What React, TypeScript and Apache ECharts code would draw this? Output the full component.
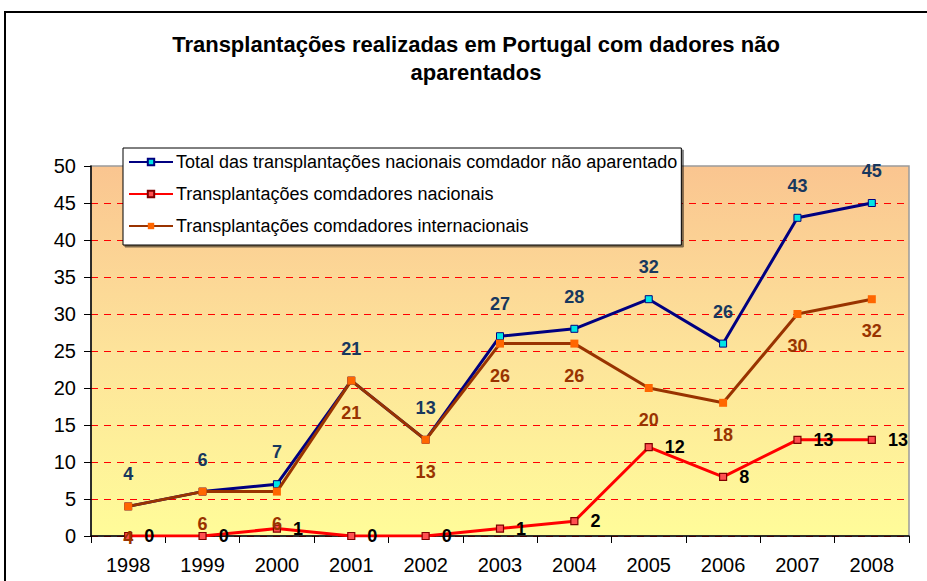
import React, { useEffect, useRef } from "react";
import * as echarts from "echarts";

const years = ["1998", "1999", "2000", "2001", "2002", "2003", "2004", "2005", "2006", "2007", "2008"];
const totalValues = [4, 6, 7, 21, 13, 27, 28, 32, 26, 43, 45];
const nacionaisValues = [0, 0, 1, 0, 0, 1, 2, 12, 8, 13, 13];
const internacionaisValues = [4, 6, 6, 21, 13, 26, 26, 20, 18, 30, 32];
const seriesNames = [
  "Total das transplantações nacionais comdador não aparentado",
  "Transplantações comdadores nacionais",
  "Transplantações comdadores internacionais",
];
const titleLines = ["Transplantações realizadas em Portugal com dadores não", "aparentados"];

const FONT = "'Liberation Sans', Arial, sans-serif";

export default function App() {
  const ref = useRef<HTMLDivElement>(null);
  useEffect(() => {
    if (!ref.current) return;
    const chart = echarts.init(ref.current, null, { renderer: "svg" });
    const gridColors = ["#FF0000", "#FF0000", "#FF0000", "#FF0000", "#FF0000", "#FF0000", "#FF0000", "#FF0000", "#FF0000", "#FF0000", "transparent"];
    chart.setOption({
      animation: false,
      textStyle: { fontFamily: FONT },
      graphic: [
        {
          type: "rect",
          shape: { x: 5, y: 12, width: 1000, height: 1000 },
          style: { fill: "none", stroke: "#000", lineWidth: 2 },
          silent: true,
        },
        {
          type: "text",
          x: 476,
          y: 44,
          style: {
            text: titleLines[0],
            font: `bold 22px ${FONT}`,
            fill: "#000",
            align: "center",
            verticalAlign: "middle",
          },
        },
        {
          type: "text",
          x: 476,
          y: 72,
          style: {
            text: titleLines[1],
            font: `bold 22px ${FONT}`,
            fill: "#000",
            align: "center",
            verticalAlign: "middle",
          },
        },
      ],
      legend: {
        orient: "vertical",
        left: 123,
        top: 148,
        backgroundColor: "#fff",
        borderColor: "#000",
        borderWidth: 1,
        padding: [5, 4, 10, 5],
        itemWidth: 44,
        itemHeight: 8,
        itemGap: 14,
        shadowColor: "rgba(0,0,0,0.5)",
        shadowOffsetX: 2,
        shadowOffsetY: 2,
        shadowBlur: 0,
        textStyle: { fontSize: 18, color: "#000", fontFamily: FONT, padding: [0, 0, 0, -2] },
        data: seriesNames,
      },
      grid: {
        left: 91,
        right: 18,
        top: 166,
        bottom: 45,
        show: true,
        borderColor: "#9a9a9a",
        borderWidth: 1.5,
        backgroundColor: new echarts.graphic.LinearGradient(0, 0, 0, 1, [
          { offset: 0, color: "#FAC590" },
          { offset: 0.5, color: "#FDE39A" },
          { offset: 1, color: "#FFFC99" },
        ]),
      },
      xAxis: {
        type: "category",
        data: years,
        boundaryGap: true,
        axisLine: { lineStyle: { color: "#000", width: 1.5 } },
        axisTick: { show: true, interval: 0, length: 7, lineStyle: { color: "#000" } },
        axisLabel: { fontSize: 20, color: "#000", margin: 19, fontFamily: FONT },
      },
      yAxis: {
        type: "value",
        min: 0,
        max: 50,
        interval: 5,
        axisLine: { show: true, lineStyle: { color: "#000", width: 1.5 } },
        axisTick: { show: true, length: 7, lineStyle: { color: "#000" } },
        axisLabel: { fontSize: 20, color: "#000", margin: 15, fontFamily: FONT },
        splitLine: { show: true, lineStyle: { color: gridColors, type: [7, 6], width: 1 } },
      },
      series: [
        {
          name: seriesNames[0],
          type: "line",
          data: totalValues,
          symbol: "rect",
          symbolSize: 7,
          lineStyle: { color: "#000080", width: 3 },
          itemStyle: { color: "#00E5E5", borderColor: "#000080", borderWidth: 1 },
          label: {
            show: true,
            position: "top",
            distance: 19,
            fontSize: 18,
            fontWeight: "bold",
            color: "#17375E",
            fontFamily: FONT,
          },
          z: 2,
        },
        {
          name: seriesNames[1],
          type: "line",
          data: nacionaisValues,
          symbol: "rect",
          symbolSize: 7,
          lineStyle: { color: "#FF0000", width: 3 },
          itemStyle: { color: "#FF5050", borderColor: "#800000", borderWidth: 1.2 },
          label: {
            show: true,
            position: "right",
            distance: 12,
            fontSize: 18,
            fontWeight: "bold",
            color: "#000",
            fontFamily: FONT,
          },
          z: 3,
        },
        {
          name: seriesNames[2],
          type: "line",
          data: internacionaisValues,
          symbol: "rect",
          symbolSize: 8,
          lineStyle: { color: "#993300", width: 3 },
          itemStyle: { color: "#FF6600", borderColor: "#FF6600", borderWidth: 0 },
          label: {
            show: true,
            position: "bottom",
            distance: 19,
            fontSize: 18,
            fontWeight: "bold",
            color: "#993300",
            fontFamily: FONT,
          },
          z: 4,
        },
      ],
    });
    return () => chart.dispose();
  }, []);
  return <div ref={ref} style={{ width: 927, height: 581, position: "absolute", left: 0, top: 0 }} />;
}
